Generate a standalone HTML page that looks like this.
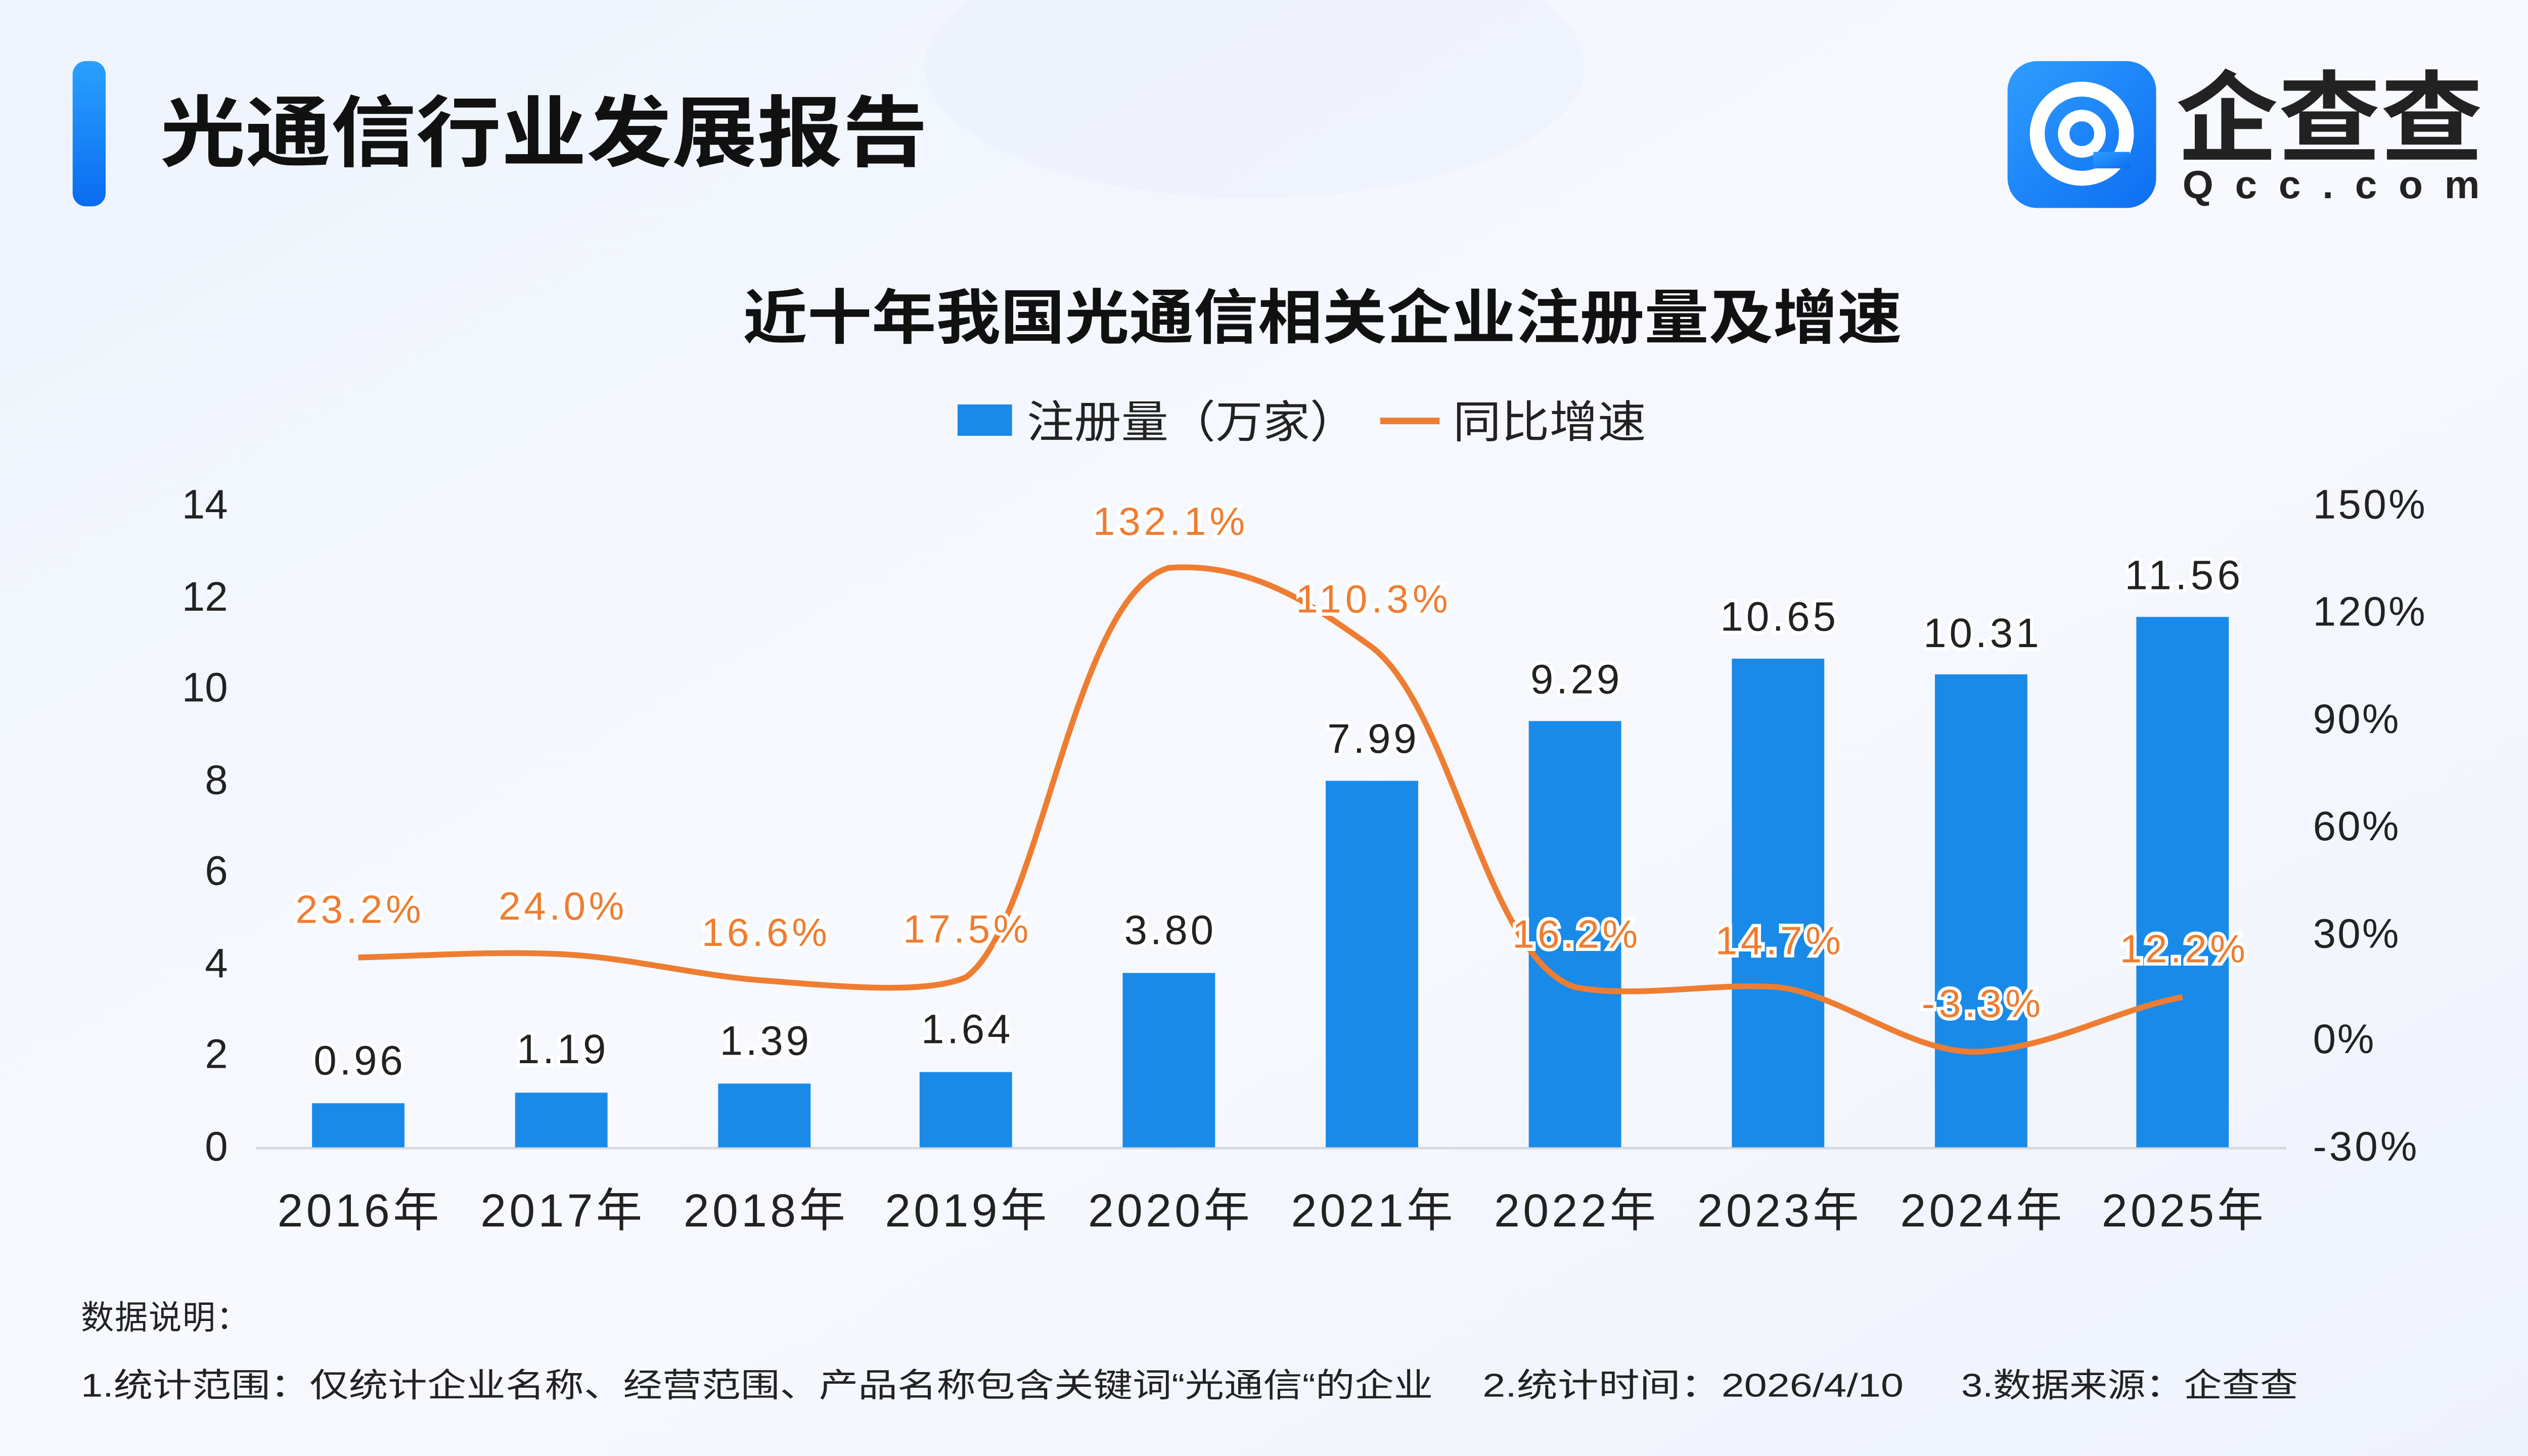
<!DOCTYPE html>
<html><head><meta charset="utf-8"><style>
html,body{margin:0;padding:0;width:5120px;height:2880px;overflow:hidden;background:#f3f6fc}
svg{display:block}
text{font-family:"Liberation Sans","Noto Sans CJK SC",sans-serif}
</style></head><body>
<svg width="5120" height="2880" viewBox="0 0 1568 882" xmlns="http://www.w3.org/2000/svg">
<defs>
<linearGradient id="bg" x1="0" y1="0" x2="1" y2="1">
<stop offset="0" stop-color="#eef3fc"/><stop offset="0.5" stop-color="#f7f9fe"/><stop offset="1" stop-color="#eef2fb"/>
</linearGradient>
<linearGradient id="lb" x1="0" y1="0" x2="0" y2="1"><stop offset="0" stop-color="#2aa0ff"/><stop offset="1" stop-color="#0a6cf0"/></linearGradient>
<linearGradient id="lg" x1="0" y1="0" x2="1" y2="1"><stop offset="0" stop-color="#2f9dff"/><stop offset="1" stop-color="#0d6ef2"/></linearGradient>
</defs>
<rect width="1568" height="882" fill="url(#bg)"/>
<ellipse cx="760" cy="40" rx="200" ry="80" fill="#edf1fb" opacity="0.7"/>
<rect x="44" y="37" width="20" height="88" rx="8" fill="url(#lb)"/>
<text x="97" y="97" font-size="47" font-weight="bold" fill="#111" textLength="465" lengthAdjust="spacingAndGlyphs">光通信行业发展报告</text>
<rect x="1216" y="37" width="90" height="89" rx="18" fill="url(#lg)"/>
<circle cx="1261" cy="81" r="27" fill="none" stroke="#fff" stroke-width="9"/>
<circle cx="1261" cy="81" r="11" fill="none" stroke="#fff" stroke-width="7"/>
<rect x="1268" y="92" width="22" height="10" fill="url(#lg)"/>
<text x="1318" y="93" font-size="60" font-weight="bold" fill="#222" textLength="186" lengthAdjust="spacingAndGlyphs">企查查</text>
<text x="1322" y="120" font-size="24" font-weight="bold" fill="#222" textLength="180" lengthAdjust="spacing">Qcc.com</text>
<text x="450" y="205" font-size="36" font-weight="bold" fill="#111" textLength="702" lengthAdjust="spacingAndGlyphs">近十年我国光通信相关企业注册量及增速</text>
<rect x="580" y="245" width="33" height="19" fill="#1a8ae8"/>
<text x="622" y="265" font-size="27" fill="#222" textLength="200" lengthAdjust="spacingAndGlyphs">注册量（万家）</text>
<line x1="836" y1="255" x2="872" y2="255" stroke="#ee7d32" stroke-width="4"/>
<text x="880" y="265" font-size="27" fill="#222" textLength="117" lengthAdjust="spacingAndGlyphs">同比增速</text>
<g font-size="25" fill="#222" text-anchor="end">
<text x="138" y="314">14</text><text x="138" y="370">12</text><text x="138" y="425">10</text><text x="138" y="481">8</text><text x="138" y="536">6</text><text x="138" y="592">4</text><text x="138" y="647">2</text><text x="138" y="703">0</text>
</g>
<g font-size="25" fill="#222">
<text x="1401" y="314" textLength="68">150%</text><text x="1401" y="379" textLength="68">120%</text><text x="1401" y="444" textLength="52">90%</text><text x="1401" y="509" textLength="52">60%</text><text x="1401" y="574" textLength="52">30%</text><text x="1401" y="638" textLength="37">0%</text><text x="1401" y="703" textLength="63">-30%</text>
</g>
<line x1="155" y1="695.5" x2="1385" y2="695.5" stroke="#d5d9e0" stroke-width="1.5"/>
<g fill="#1a8ae8">
<rect x="189" y="668.3" width="56" height="26.7"/>
<rect x="312" y="661.9" width="56" height="33.1"/>
<rect x="435" y="656.4" width="56" height="38.6"/>
<rect x="557" y="649.4" width="56" height="45.6"/>
<rect x="680" y="589.4" width="56" height="105.6"/>
<rect x="803" y="473.0" width="56" height="222.0"/>
<rect x="926" y="436.8" width="56" height="258.2"/>
<rect x="1049" y="399.0" width="56" height="296.0"/>
<rect x="1172" y="408.5" width="56" height="286.5"/>
<rect x="1294" y="373.7" width="56" height="321.3"/>
</g>
<g font-size="25" fill="#222" text-anchor="middle" stroke="#fff" stroke-width="4" paint-order="stroke">
<text x="217" y="651" textLength="54">0.96</text><text x="340" y="644" textLength="54">1.19</text><text x="463" y="639" textLength="54">1.39</text><text x="585" y="632" textLength="54">1.64</text><text x="708" y="572" textLength="54">3.80</text><text x="831" y="456" textLength="54">7.99</text><text x="954" y="420" textLength="54">9.29</text><text x="1077" y="382" textLength="70">10.65</text><text x="1200" y="392" textLength="70">10.31</text><text x="1322" y="357" textLength="70">11.56</text>
</g>
<path d="M217,580 C258,579 299,576 340,578 C381,580 422,591 463,594 C504,597 560,603 585,592 C630,560 650,360 708,344 C760,340 800,370 831,392 C880,430 900,580 954,598 C990,605 1040,595 1077,598 C1115,602 1160,640 1200,637 C1245,634 1280,612 1322,604" fill="none" stroke="#ee7d32" stroke-width="3.5"/>
<g font-size="24" fill="#ee7d32" text-anchor="middle" stroke="#fff" stroke-width="4" paint-order="stroke">
<text x="217" y="559" textLength="76">23.2%</text><text x="340" y="557" textLength="76">24.0%</text><text x="463" y="573" textLength="76">16.6%</text><text x="585" y="571" textLength="76">17.5%</text><text x="708" y="324" textLength="92">132.1%</text><text x="831" y="371" textLength="92">110.3%</text><text x="954" y="574" textLength="76">16.2%</text><text x="1077" y="578" textLength="76">14.7%</text><text x="1200" y="616" textLength="72">-3.3%</text><text x="1322" y="583" textLength="76">12.2%</text>
</g>
<g font-size="28" fill="#222" text-anchor="middle">
<text x="217" y="743" textLength="98">2016年</text><text x="340" y="743" textLength="98">2017年</text><text x="463" y="743" textLength="98">2018年</text><text x="585" y="743" textLength="98">2019年</text><text x="708" y="743" textLength="98">2020年</text><text x="831" y="743" textLength="98">2021年</text><text x="954" y="743" textLength="98">2022年</text><text x="1077" y="743" textLength="98">2023年</text><text x="1200" y="743" textLength="98">2024年</text><text x="1322" y="743" textLength="98">2025年</text>
</g>
<text x="49" y="805" font-size="20" fill="#222" textLength="102">数据说明：</text>
<text x="49" y="846" font-size="20" fill="#222" textLength="819" lengthAdjust="spacingAndGlyphs">1.统计范围：仅统计企业名称、经营范围、产品名称包含关键词“光通信“的企业</text>
<text x="898" y="846" font-size="20" fill="#222" textLength="255" lengthAdjust="spacingAndGlyphs">2.统计时间：2026/4/10</text>
<text x="1188" y="846" font-size="20" fill="#222" textLength="204" lengthAdjust="spacingAndGlyphs">3.数据来源：企查查</text>
</svg>
</body></html>
